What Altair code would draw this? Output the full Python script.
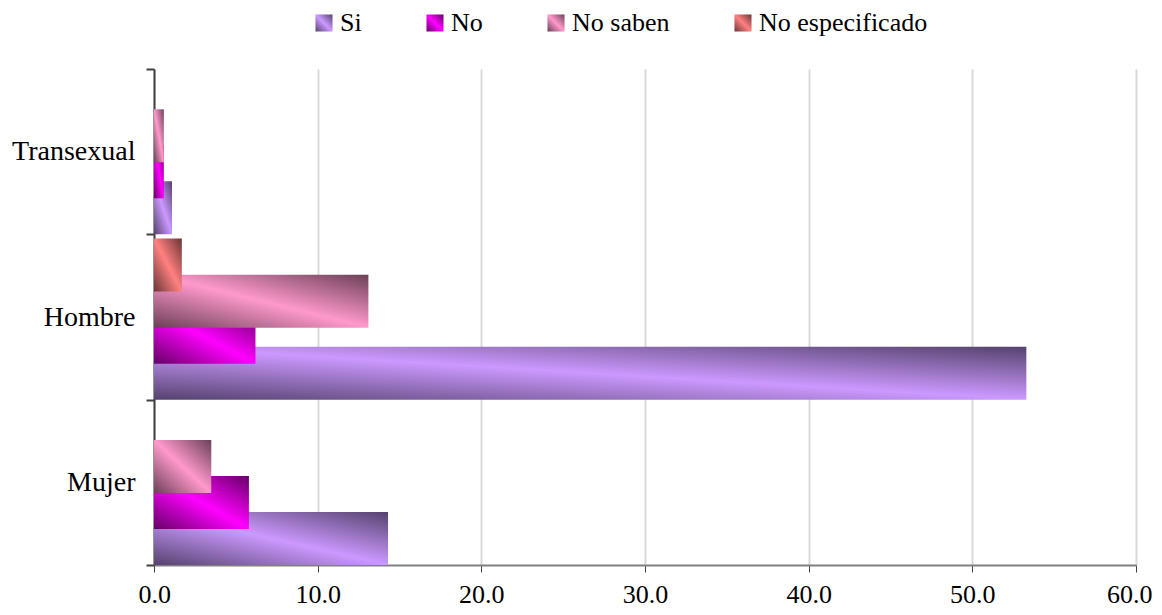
import altair as alt
import pandas as pd

# ---- data ----
categories = ["Transexual", "Hombre", "Mujer"]
series = ["Si", "No", "No saben", "No especificado"]
si_vals = [1.1, 53.3, 14.3]
no_vals = [0.6, 6.2, 5.8]
nosaben_vals = [0.6, 13.1, 3.5]
noesp_vals = [0.0, 1.7, 0.0]
x_ticks = [0, 10, 20, 30, 40, 50, 60]

# ---- styles ----
light_colors = ["#cc99ff", "#ff00ff", "#ff99cc", "#ff8080"]
dark_colors = ["#55426e", "#660066", "#6b4056", "#6b3535"]
FONT = "Liberation Serif"

series_values = [si_vals, no_vals, nosaben_vals, noesp_vals]
rows = []
for ci, cat in enumerate(categories):
    for si, s in enumerate(series):
        rows.append({"categoria": cat, "serie": s, "valor": series_values[si][ci]})
df = pd.DataFrame(rows)


def grad(light, dark):
    return {
        "expr": (
            "{gradient: 'linear', x1: 0, y1: 1, x2: 1, y2: 0, stops: ["
            f"{{offset: 0, color: '{dark}'}}, "
            f"{{offset: 0.5, color: '{light}'}}, "
            f"{{offset: 1, color: '{dark}'}}]}}"
        )
    }


ranges = [grad(l, d) for l, d in zip(light_colors, dark_colors)]

chart = (
    alt.Chart(df)
    .mark_bar(height=53, strokeWidth=0)
    .encode(
        x=alt.X(
            "valor:Q",
            scale=alt.Scale(domain=[0, 60], nice=False, zero=True),
            axis=alt.Axis(
                values=x_ticks,
                format=".1f",
                title=None,
                grid=True,
                gridColor="#d9d9d9",
                gridWidth=2,
                domainColor="#808080",
                domainWidth=2,
                tickColor="#404040",
                tickSize=7,
                tickWidth=1,
                labelFont=FONT,
                labelFontSize=26,
                labelColor="black",
                labelPadding=9,
                labelFlush=True,
                labelFlushOffset=16,
            ),
        ),
        y=alt.Y(
            "categoria:N",
            sort=categories,
            scale=alt.Scale(paddingInner=0, paddingOuter=0),
            axis=alt.Axis(
                title=None,
                grid=False,
                domainColor="#404040",
                domainWidth=2,
                tickColor="#404040",
                tickSize=8,
                tickWidth=2,
                tickBand="extent",
                labelFont=FONT,
                labelFontSize=28,
                labelColor="black",
                labelPadding=11,
            ),
        ),
        yOffset=alt.YOffset(
            "serie:N",
            scale=alt.Scale(
                domain=["No especificado", "No saben", "No", "Si"],
                paddingInner=0,
                paddingOuter=0.296,
                align=0.6,
            ),
        ),
        color=alt.Color(
            "serie:N",
            scale=alt.Scale(domain=series, range=ranges),
            legend=alt.Legend(
                title=None,
                orient="none",
                legendX=157,
                legendY=-59,
                direction="horizontal",
                columns=4,
                symbolType="square",
                symbolSize=290,
                symbolStrokeWidth=0,
                columnPadding=60,
                labelOffset=3,
                labelLimit=400,
                labelFont=FONT,
                labelFontSize=26,
                labelColor="black",
                padding=0,
            ),
        ),
    )
    .properties(
        width=982,
        height=496,
        autosize=alt.AutoSizeParams(type="none"),
        padding={"left": 146, "top": 61, "right": 16, "bottom": 42},
        background="white",
    )
    .configure_view(stroke=None)
)

chart.save("out.html", embed_options={"renderer": "svg", "actions": False})
